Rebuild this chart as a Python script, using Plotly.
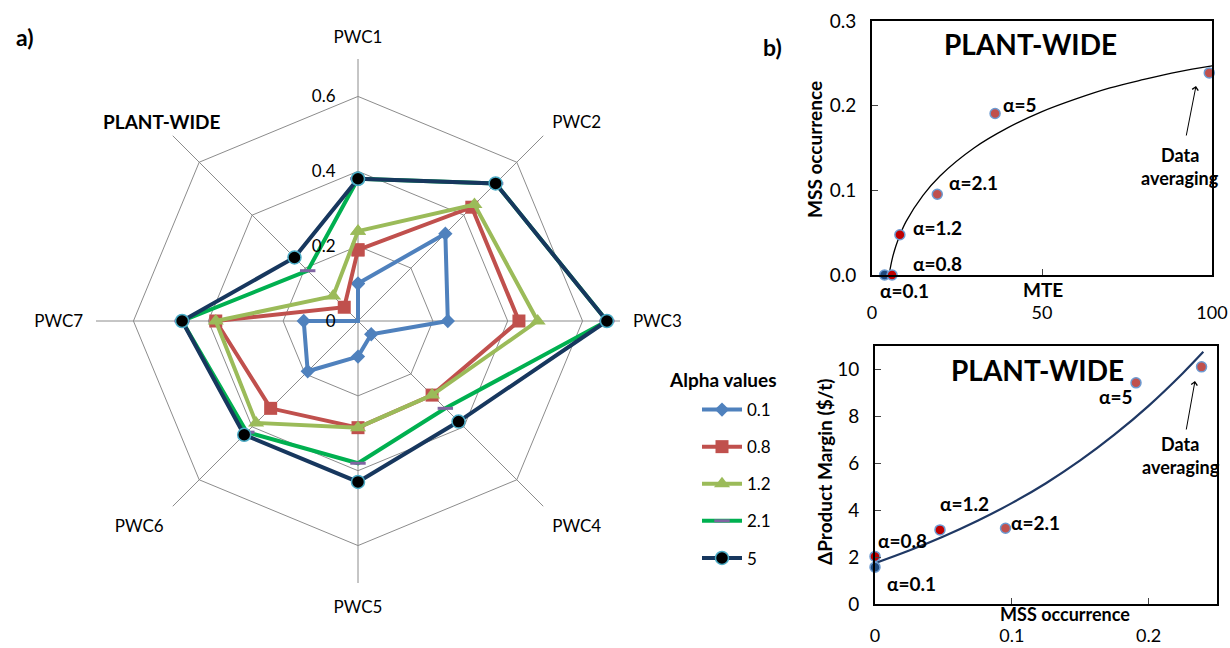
import plotly.graph_objects as go

W, H = 1230, 648
FONT = "Lato"

# ---------------- Radar data (panel a) ----------------
categories = ["PWC1", "PWC2", "PWC3", "PWC4", "PWC5", "PWC6", "PWC7", "PLANT-WIDE"]
alpha_names = ["0.1", "0.8", "1.2", "2.1", "5"]
alpha_01 = [0.10, 0.33, 0.24, 0.05, 0.095, 0.19, 0.145, 0.0]
alpha_08 = [0.19, 0.43, 0.43, 0.28, 0.285, 0.33, 0.38, 0.052]
alpha_12 = [0.24, 0.44, 0.48, 0.28, 0.285, 0.385, 0.38, 0.094]
alpha_21 = [0.38, 0.52, 0.665, 0.33, 0.38, 0.42, 0.47, 0.19]
alpha_5 = [0.38, 0.52, 0.665, 0.38, 0.43, 0.43, 0.47, 0.24]
radial_ticks = [0, 0.2, 0.4, 0.6]
radial_ticktext = ["0", "0.2", "0.4", "0.6"]

# ---------------- Scatter data (panel b) ----------------
point_labels = ["α=0.1", "α=0.8", "α=1.2", "α=2.1", "α=5", "Data averaging"]
mte = [3.7, 5.9, 8.2, 19.2, 36.2, 99.2]
mss = [0.0, 0.0, 0.0475, 0.0954, 0.1908, 0.2387]
margin = [1.57, 2.03, 3.16, 3.23, 9.43, 10.11]

# trend curves
curve1_x = [5.0, 6, 7, 8, 10, 15, 20, 30, 40, 50, 60, 70, 80, 90, 100]
curve1_y = [0.0, 0.02, 0.034, 0.045, 0.063, 0.094, 0.117, 0.15, 0.174, 0.193, 0.208, 0.221, 0.231, 0.24, 0.247]
curve2_x = [0, 0.025, 0.05, 0.075, 0.1, 0.125, 0.15, 0.175, 0.2, 0.225, 0.24]
curve2_y = [1.74, 2.28, 2.88, 3.55, 4.30, 5.15, 6.12, 7.22, 8.45, 9.84, 10.75]

mte_ticks = [0, 50, 100]
mss_ticks = [0, 0.1, 0.2, 0.3]
mss2_ticks = [0, 0.1, 0.2]
margin_ticks = [0, 2, 4, 6, 8, 10]

# ---------------- styles ----------------
series_vals = [alpha_01, alpha_08, alpha_12, alpha_21, alpha_5]
series_color = ["#4F81BD", "#C0504D", "#9BBB59", "#00B050", "#17375E"]
series_symbol = ["diamond", "square", "triangle-up", "line-ew", "circle"]
series_msize = [11, 13, 14, 11, 13]
series_mcolor = ["#4F81BD", "#C0504D", "#9BBB59", "#8064A2", "black"]
series_mline = [dict(width=0), dict(width=0), dict(width=0),
                dict(width=3, color="#8064A2"), dict(width=1.5, color="#4BACC6")]
point_fill = ["#1F497D", "#C00000", "#C00000", "#C0504D", "#C0504D", "#C0504D"]

# the bold PLANT-WIDE spoke label is drawn as an annotation
angular_ticktext = categories[:-1] + [""]


def px(x):
    return x / W


def py(y):
    return 1 - y / H


fig = go.Figure()

for name, vals, col, sym, ms, mc, ml in zip(alpha_names, series_vals, series_color,
                                             series_symbol, series_msize, series_mcolor, series_mline):
    fig.add_trace(go.Scatterpolar(
        r=vals + [vals[0]], theta=categories + [categories[0]],
        mode="lines+markers", name=name, legendgroup=name,
        line=dict(color=col, width=4),
        marker=dict(symbol=sym, size=ms, color=mc, line=ml),
        subplot="polar", cliponaxis=False,
    ))

# panel b top
fig.add_trace(go.Scatter(x=curve1_x, y=curve1_y, mode="lines",
                         line=dict(color="black", width=1.3, shape="spline", smoothing=1.0),
                         showlegend=False, xaxis="x", yaxis="y"))
fig.add_trace(go.Scatter(x=mte, y=mss, mode="markers", showlegend=False, xaxis="x", yaxis="y",
                         marker=dict(size=10, color=point_fill, line=dict(color="#6C9BD2", width=1.5)),
                         cliponaxis=False))
# panel b bottom
fig.add_trace(go.Scatter(x=curve2_x, y=curve2_y, mode="lines",
                         line=dict(color="#1F3864", width=2.2, shape="spline", smoothing=1.0),
                         showlegend=False, xaxis="x2", yaxis="y2"))
fig.add_trace(go.Scatter(x=mss, y=margin, mode="markers", showlegend=False, xaxis="x2", yaxis="y2",
                         marker=dict(size=10, color=point_fill, line=dict(color="#6C9BD2", width=1.5)),
                         cliponaxis=False))

axis_common = dict(showline=True, mirror=True, linecolor="black", linewidth=2, ticks="inside",
                   ticklen=6, tickcolor="#444", showgrid=False, zeroline=False, automargin=False)
tick19 = dict(size=19, color="black", family=FONT)
tick18 = dict(size=18, color="black", family=FONT)

fig.update_layout(
    width=W, height=H, margin=dict(l=0, r=0, t=0, b=0, autoexpand=False),
    paper_bgcolor="white", plot_bgcolor="white",
    font=dict(family=FONT, color="black"),
    polar=dict(
        domain=dict(x=[px(96), px(620)], y=[py(583), py(59)]),
        gridshape="linear", bgcolor="white",
        angularaxis=dict(direction="clockwise", rotation=90, showline=False,
                         gridcolor="#8C8C8C", gridwidth=1,
                         ticks="outside", ticklen=9, tickcolor="rgba(0,0,0,0)",
                         categoryorder="array", categoryarray=categories,
                         tickmode="array", tickvals=categories, ticktext=angular_ticktext,
                         tickfont=dict(size=17, color="black", family=FONT)),
        radialaxis=dict(range=[0, 0.7], tickmode="array", tickvals=radial_ticks, ticktext=radial_ticktext,
                        angle=90, side="counterclockwise", showline=False,
                        ticks="outside", ticklen=16, tickcolor="rgba(0,0,0,0)",
                        gridcolor="#8C8C8C", gridwidth=1, tickangle=90,
                        tickfont=dict(size=17, color="black", family=FONT)),
    ),
    legend=dict(x=px(697), y=py(392), xanchor="left", yanchor="top",
                font=dict(size=17, color="black", family=FONT), itemwidth=40,
                tracegroupgap=12, bgcolor="rgba(0,0,0,0)"),
    xaxis=dict(domain=[px(872), px(1212)], anchor="y", range=[0, 100], tickmode="array",
               tickvals=mte_ticks, ticklabelstandoff=20, tickfont=tick18, **axis_common),
    yaxis=dict(domain=[py(275), py(21)], anchor="x", range=[0, 0.3], tickmode="array",
               tickvals=mss_ticks, tickformat=".1f", ticklabelstandoff=10, tickfont=tick19, **axis_common),
    xaxis2=dict(domain=[px(875), px(1217)], anchor="y2", range=[0, 0.25], tickmode="array",
                tickvals=mss2_ticks, ticktext=["0", "0.1", "0.2"], ticklabelstandoff=14,
                tickfont=tick18, **axis_common),
    yaxis2=dict(domain=[py(604), py(346)], anchor="x2", range=[0, 11], tickmode="array",
                tickvals=margin_ticks, ticklabelstandoff=10, tickfont=tick19, **axis_common),
)

ann = []


def txt(x, y, s, size=19, bold=True, xanchor="center", angle=0):
    ann.append(dict(x=px(x), y=py(y), xref="paper", yref="paper", text=(f"<b>{s}</b>" if bold else s),
                    showarrow=False, xanchor=xanchor, yanchor="middle", textangle=angle,
                    font=dict(size=size, color="black", family=FONT)))


txt(25, 37, "a)", size=23)
txt(772, 47, "b)", size=23)
txt(723, 379, "Alpha values", size=19)
txt(161, 121, categories[-1], size=19)

# top-right panel texts
txt(1030, 44, "PLANT-WIDE", size=28)
txt(1001, 104, point_labels[4], xanchor="left")
txt(947, 182, point_labels[3], xanchor="left")
txt(911, 227, point_labels[2], xanchor="left")
txt(911, 263, point_labels[1], xanchor="left")
txt(878, 290, point_labels[0], xanchor="left")
txt(1180, 155, "Data", size=18)
txt(1180, 178, "averaging", size=18)
txt(1043, 289, "MTE", size=19)
txt(814, 150, "MSS occurrence", size=19, angle=-90)

# bottom-right panel texts
txt(1037, 370, "PLANT-WIDE", size=28)
txt(1097, 396, point_labels[4], xanchor="left")
txt(938, 503, point_labels[2], xanchor="left")
txt(1009, 522, point_labels[3], xanchor="left")
txt(876, 540, point_labels[1], xanchor="left")
txt(885, 583, point_labels[0], xanchor="left")
txt(1180, 444, "Data", size=18)
txt(1181, 467, "averaging", size=18)
txt(1065, 614, "MSS occurrence", size=18)
txt(824, 472, "ΔProduct Margin ($/t)", size=19, angle=-90)

# arrows
ann.append(dict(x=px(1196), y=py(86), xref="paper", yref="paper", ax=-10, ay=51, text="",
                showarrow=True, arrowhead=4, arrowsize=1.2, arrowwidth=1, arrowcolor="black"))
ann.append(dict(x=px(1195), y=py(381), xref="paper", yref="paper", ax=-9, ay=50, text="",
                showarrow=True, arrowhead=4, arrowsize=1.2, arrowwidth=1, arrowcolor="black"))

fig.update_layout(annotations=ann)
fig.write_html("out.html")
